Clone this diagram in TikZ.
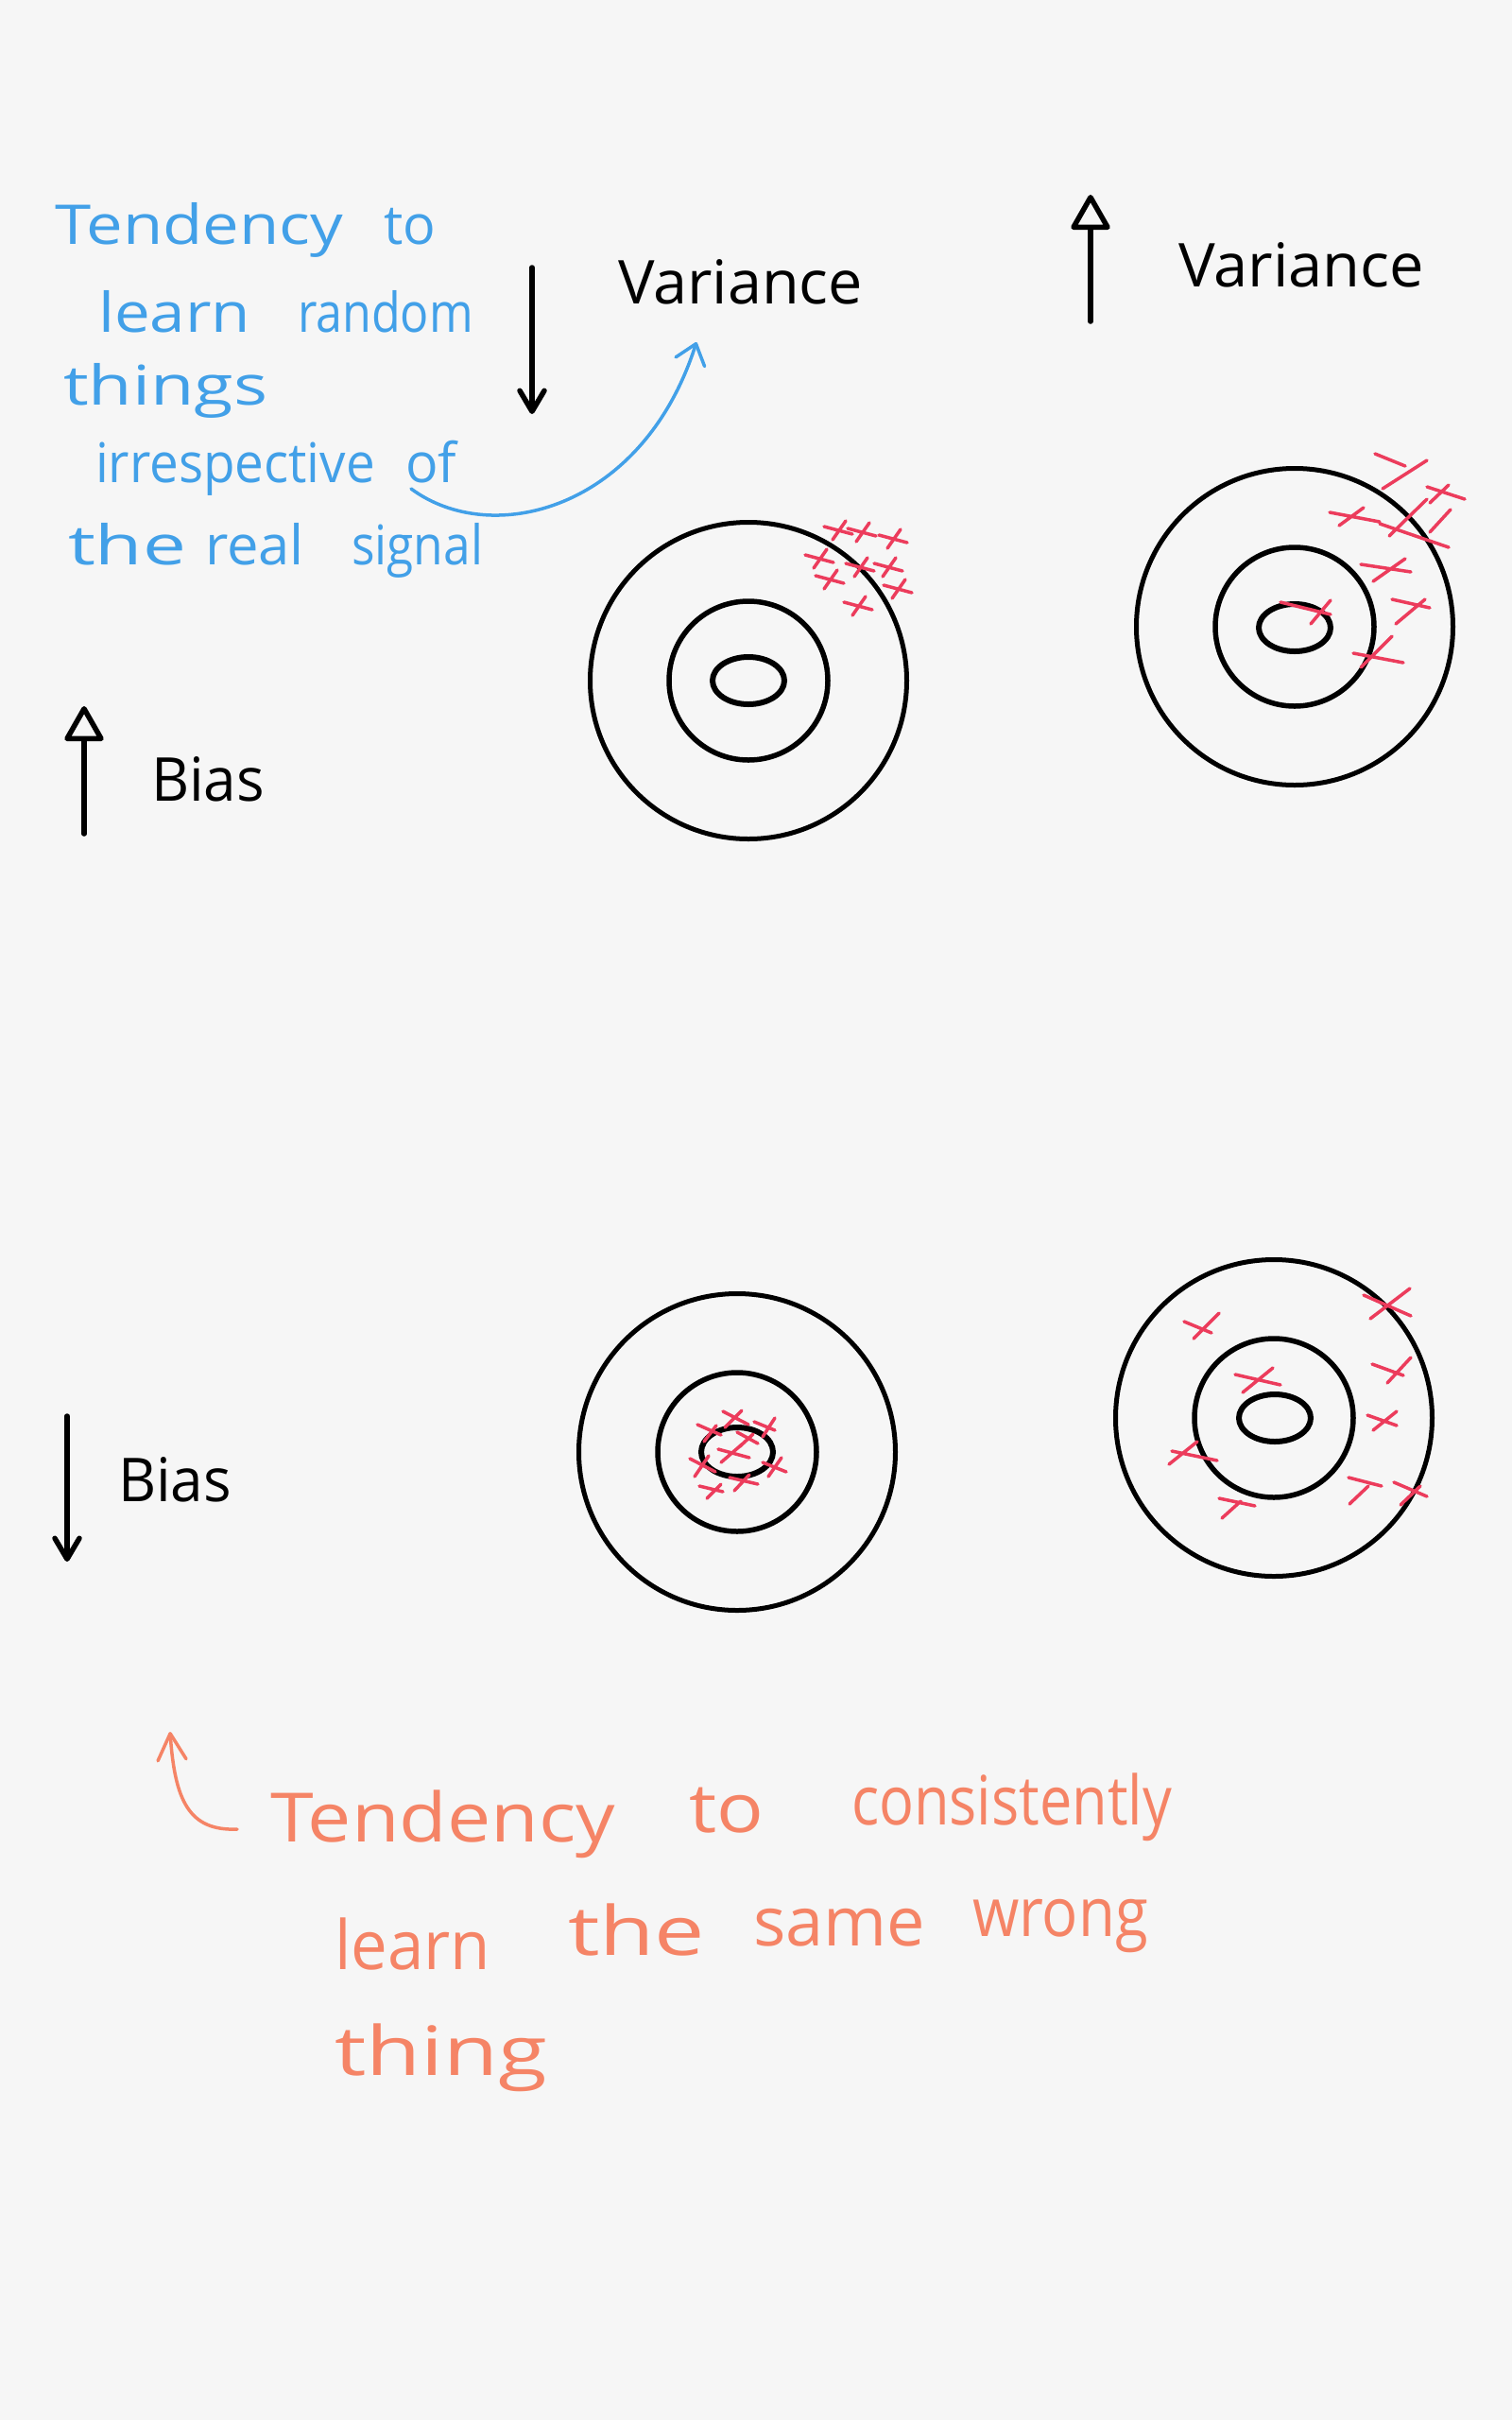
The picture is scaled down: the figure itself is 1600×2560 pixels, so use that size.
\documentclass[tikz,border=0pt]{standalone}
\usepackage{fontspec}
\usepackage{graphicx}
\setmainfont{Open Sans}
\newfontfamily\labfont{Open Sans}
\newfontfamily\handfont{Open Sans}
\usetikzlibrary{arrows.meta,shapes.geometric}
\definecolor{bgc}{HTML}{F6F6F6}
\definecolor{bluec}{RGB}{66,160,232}
\definecolor{orangec}{RGB}{245,132,102}
\definecolor{redc}{RGB}{236,60,92}
\newcommand{\hwword}[5]{\node[#1] (#2) at (#3) {\resizebox{#4pt}{\height}{#5}};}
\begin{document}
\begin{tikzpicture}[x=1pt,y=-1pt,
  word/.style={anchor=base west, inner sep=0pt, outer sep=0pt},
  bluetxt/.style={word, text=bluec, font=\handfont\fontsize{58}{62}\selectfont},
  orangetxt/.style={word, text=orangec, font=\handfont\fontsize{72}{76}\selectfont},
  labtxt/.style={word, text=black, font=\labfont\fontsize{64}{70}\selectfont},
  ring/.style={circle, draw=black, line width=5pt, inner sep=0pt},
  bull/.style={ellipse, draw=black, line width=6pt, inner sep=0pt},
  blkarrow/.style={draw=black, line width=5.5pt, line cap=round, -{Straight Barb[length=22pt,width=26pt,round]}},
  triarrow/.style={draw=black, line width=5.5pt, line cap=round, -{Triangle[open,length=40pt,width=44pt,round]}},
  bluearrow/.style={draw=bluec, line width=3.5pt, line cap=round, -{Straight Barb[length=20pt,width=32pt,round]}},
  orangearrow/.style={draw=orangec, line width=3.5pt, line cap=round, -{Straight Barb[length=28pt,width=30pt,round]}},
  xmark/.style={draw=redc, line width=3.5pt, line cap=round}
]
\fill[bgc] (0,0) rectangle (1600,2560);
\useasboundingbox (0,0) rectangle (1600,2560);

% ---------- targets ----------
\node[ring, minimum size=335pt] (t1out) at (792,720) {};
\node[ring, minimum size=168pt, line width=5.5pt] (t1mid) at (792,720) {};
\node[bull, minimum width=76pt, minimum height=50pt] (t1in) at (792,720) {};

\node[ring, minimum size=335pt] (t2out) at (1370,663) {};
\node[ring, minimum size=168pt, line width=5.5pt] (t2mid) at (1370,663) {};
\node[bull, minimum width=76pt, minimum height=50pt] (t2in) at (1370,664) {};

\node[ring, minimum size=335pt] (t3out) at (780,1536) {};
\node[ring, minimum size=168pt, line width=5.5pt] (t3mid) at (780,1536) {};
\node[bull, minimum width=76pt, minimum height=52pt] (t3in) at (780,1536) {};

\node[ring, minimum size=335pt] (t4out) at (1348,1500) {};
\node[ring, minimum size=168pt, line width=5.5pt] (t4mid) at (1348,1500) {};
\node[bull, minimum width=76pt, minimum height=50pt] (t4in) at (1349,1500) {};

% ---------- crosses: top left target ----------
\foreach \cx/\cy in {887/561, 912/563, 945/570, 867/591, 910/600, 940/600, 878/613, 950/623, 908/641}{
  \draw[xmark] (\cx,\cy) +(-15,-4) -- +(15,4) +(-6,10) -- +(8,-10);
}

% ---------- crosses: top right target ----------
\draw[xmark] (1455,480) -- (1487,493) (1463,517) -- (1510,487);
\draw[xmark] (1510,515) -- (1550,528) (1513,532) -- (1533,513);
\draw[xmark] (1407,542) -- (1460,552) (1417,556) -- (1443,537);
\draw[xmark] (1460,554) -- (1533,579) (1470,567) -- (1510,528);
\draw[xmark] (1513,563) -- (1535,539);
\draw[xmark] (1440,597) -- (1493,605) (1453,615) -- (1487,591);
\draw[xmark] (1473,634) -- (1513,643) (1477,660) -- (1508,634);
\draw[xmark] (1355,637) -- (1408,650) (1387,660) -- (1408,635);
\draw[xmark] (1432,691) -- (1485,701) (1440,706) -- (1473,673);

% ---------- crosses: bottom left target ----------
\draw[xmark] (765,1493) -- (792,1507) (767,1510) -- (785,1492);
\draw[xmark] (738,1507) -- (763,1518) (745,1525) -- (758,1508);
\draw[xmark] (798,1504) -- (820,1513) (807,1520) -- (820,1500);
\draw[xmark] (780,1515) -- (802,1527) (783,1530) -- (797,1517);
\draw[xmark] (760,1533) -- (793,1542) (763,1547) -- (785,1528);
\draw[xmark] (730,1543) -- (757,1557) (735,1562) -- (750,1540);
\draw[xmark] (807,1547) -- (832,1557) (813,1562) -- (827,1542);
\draw[xmark] (772,1563) -- (802,1570) (777,1577) -- (793,1560);
\draw[xmark] (740,1572) -- (765,1578) (748,1585) -- (763,1570);

% ---------- crosses: bottom right target ----------
\draw[xmark] (1253,1398) -- (1282,1410) (1263,1416) -- (1290,1389);
\draw[xmark] (1443,1370) -- (1493,1392) (1450,1395) -- (1492,1363);
\draw[xmark] (1307,1454) -- (1355,1465) (1315,1473) -- (1347,1447);
\draw[xmark] (1452,1443) -- (1485,1455) (1468,1463) -- (1493,1436);
\draw[xmark] (1447,1497) -- (1478,1508) (1453,1513) -- (1478,1493);
\draw[xmark] (1240,1535) -- (1288,1545) (1237,1549) -- (1267,1525);
\draw[xmark] (1290,1585) -- (1328,1593) (1293,1606) -- (1313,1588);
\draw[xmark] (1427,1563) -- (1462,1572) (1428,1591) -- (1448,1572);
\draw[xmark] (1475,1568) -- (1510,1583) (1482,1592) -- (1503,1572);

% ---------- black labels ----------
\hwword{labtxt}{var1}{654,321}{259}{Variance}
\hwword{labtxt}{var2}{1247,303}{260}{Variance}
\hwword{labtxt}{bias1}{160,847}{120}{Bias}
\hwword{labtxt}{bias2}{125,1588}{120}{Bias}

% ---------- black arrows ----------
\coordinate (da1s) at (563,283); \coordinate (da1e) at (563,438);
\draw[blkarrow] (da1s) -- (da1e);
\coordinate (ua1s) at (1154,340); \coordinate (ua1e) at (1154,206);
\draw[triarrow] (ua1s) -- (ua1e);
\coordinate (ub1s) at (89,882); \coordinate (ub1e) at (89,747);
\draw[triarrow] (ub1s) -- (ub1e);
\coordinate (db1s) at (71,1498); \coordinate (db1e) at (71,1652);
\draw[blkarrow] (db1s) -- (db1e);

% ---------- blue note ----------
\hwword{bluetxt}{b1a}{58,258}{305}{Tendency}
\hwword{bluetxt}{b1b}{406,258}{55}{to}
\hwword{bluetxt}{b2a}{104,351}{161}{learn}
\hwword{bluetxt}{b2b}{315,351}{186}{random}
\hwword{bluetxt}{b3}{67,428}{216}{things}
\hwword{bluetxt}{b4a}{101,510}{296}{irrespective}
\hwword{bluetxt}{b4b}{429,510}{54}{of}
\hwword{bluetxt}{b5a}{72,597}{125}{the}
\hwword{bluetxt}{b5b}{217,597}{105}{real}
\hwword{bluetxt}{b5c}{372,597}{139}{signal}
\coordinate (bcs) at (435,517); \coordinate (bce) at (737,362);
\draw[bluearrow] (bcs) .. controls (520,580) and (680,540) .. (bce);

% ---------- orange note ----------
\hwword{orangetxt}{o1a}{286,1948}{365}{Tendency}
\hwword{orangetxt}{o1b}{729,1938}{79}{to}
\hwword{orangetxt}{o1c}{901,1930}{339}{consistently}
\hwword{orangetxt}{o2a}{354,2083}{165}{learn}
\hwword{orangetxt}{o2b}{601,2068}{145}{the}
\hwword{orangetxt}{o2c}{797,2058}{182}{same}
\hwword{orangetxt}{o2d}{1029,2048}{186}{wrong}
\hwword{orangetxt}{o3}{354,2195}{225}{thing}
\coordinate (oas) at (251,1935); \coordinate (oae) at (180,1832);
\draw[orangearrow] (oas) .. controls (200,1937) and (185,1905) .. (oae);
\end{tikzpicture}
\end{document}
